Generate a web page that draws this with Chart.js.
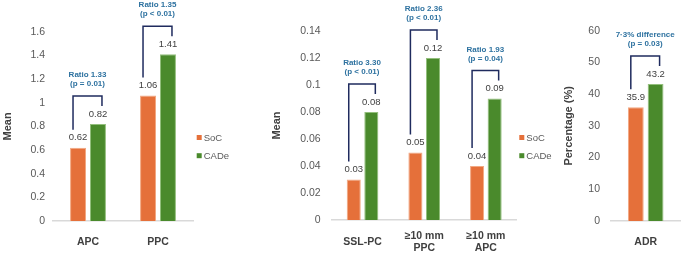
<!DOCTYPE html>
<html>
<head>
<meta charset="utf-8">
<script src="https://cdn.jsdelivr.net/npm/chart.js@4.4.1/dist/chart.umd.min.js"></script>
<style>
  html, body { margin: 0; padding: 0; background: #ffffff; }
  #wrap { position: relative; width: 685px; height: 254px; background: #ffffff; overflow: hidden; }
  .panel { position: absolute; top: 0; height: 254px; }
  canvas { display: block; }
</style>
</head>
<body>
<div id="wrap">
  <div class="panel" style="left:0px;width:230px"><canvas id="c1" width="230" height="254"></canvas></div>
  <div class="panel" style="left:230px;width:330px"><canvas id="c2" width="330" height="254"></canvas></div>
  <div class="panel" style="left:560px;width:125px"><canvas id="c3" width="125" height="254"></canvas></div>
</div>
<script>
// ---------------- DATA ----------------
const seriesNames = ['SoC', 'CADe'];

const categories1 = ['APC', 'PPC'];
const soc1 = [0.62, 1.06];
const cade1 = [0.82, 1.41];
const notes1 = [['Ratio 1.33', '(p = 0.01)'], ['Ratio 1.35', '(p < 0.01)']];
const yTicks1 = ['0', '0.2', '0.4', '0.6', '0.8', '1', '1.2', '1.4', '1.6'];

const categories2 = [['SSL-PC'], ['≥10 mm', 'PPC'], ['≥10 mm', 'APC']];
const soc2 = [0.03, 0.05, 0.04];
const cade2 = [0.08, 0.12, 0.09];
const notes2 = [['Ratio 3.30', '(p < 0.01)'], ['Ratio 2.36', '(p < 0.01)'], ['Ratio 1.93', '(p = 0.04)']];
const yTicks2 = ['0', '0.02', '0.04', '0.06', '0.08', '0.1', '0.12', '0.14'];

const categories3 = [['ADR']];
const soc3 = [35.9];
const cade3 = [43.2];
const notes3 = [['7·3% difference', '(p = 0.03)']];
const yTicks3 = ['0', '10', '20', '30', '40', '50', '60'];

// ---------------- STYLE ----------------
const FONT = "'Liberation Sans', Arial, Helvetica, sans-serif";
const ORANGE = '#E5703A', ORANGE_EDGE = '#F2A882';
const GREEN = '#4A8A2C', GREEN_EDGE = '#93BF7C';
const TICK_COLOR = '#595959';
const LABEL_COLOR = '#404040';
const NOTE_COLOR = '#2E72A0';
const BRACKET_COLOR = '#1F2B5E';

Chart.defaults.font.family = FONT;
Chart.defaults.animation = false;

const annotPlugin = {
  id: 'annot',
  afterDatasetsDraw(chart, args, opts) {
    const ctx = chart.ctx;
    const m0 = chart.getDatasetMeta(0), m1 = chart.getDatasetMeta(1);
    ctx.save();
    // value labels
    ctx.font = '9.5px ' + FONT;
    ctx.fillStyle = LABEL_COLOR;
    ctx.textAlign = 'center';
    ctx.textBaseline = 'middle';
    [m0, m1].forEach((meta, di) => {
      meta.data.forEach((bar, j) => {
        const v = chart.data.datasets[di].data[j];
        ctx.fillText(String(v), bar.x, bar.y - 10);
      });
    });
    // brackets + notes
    m0.data.forEach((s, j) => {
      const c = m1.data[j];
      const ls = s.y - 10, lc = c.y - 10;
      const top = Math.min(ls, lc) - 18;
      const lx = s.x - 5, rx = c.x + 4;
      ctx.beginPath();
      ctx.strokeStyle = BRACKET_COLOR;
      ctx.lineWidth = 1.5;
      ctx.moveTo(lx, ls - 8);
      ctx.lineTo(lx, top);
      ctx.lineTo(rx, top);
      ctx.lineTo(rx, lc - 8);
      ctx.stroke();
      const notes = opts.notes[j];
      ctx.font = 'bold 8px ' + FONT;
      ctx.fillStyle = NOTE_COLOR;
      const cx = (lx + rx) / 2;
      ctx.fillText(notes[0], cx, top - 21);
      ctx.fillText(notes[1], cx, top - 12);
    });
    // category labels
    const xs = chart.scales.x;
    ctx.font = 'bold 10.5px ' + FONT;
    ctx.fillStyle = LABEL_COLOR;
    opts.categories.forEach((cat, i) => {
      const lines = Array.isArray(cat) ? cat : [cat];
      const x = xs.getPixelForTick(i);
      const y0 = 242 - (lines.length - 1) * 12.6 / 2;
      lines.forEach((ln, k) => ctx.fillText(ln, x, y0 + k * 12.6));
    });
    // legend
    if (opts.legendX !== null) {
      ctx.font = '9.5px ' + FONT;
      ctx.fillStyle = TICK_COLOR;
      ctx.textAlign = 'left';
      const ys = [137.5, 155.7];
      chart.data.datasets.forEach((ds, i) => {
        ctx.fillStyle = ds.backgroundColor;
        ctx.fillRect(opts.legendX, ys[i] - 2.5, 5, 5);
        ctx.fillStyle = TICK_COLOR;
        ctx.fillText(ds.label, opts.legendX + 7, ys[i] + 0.5);
      });
    }
    ctx.restore();
  }
};

function makeChart(id, cfg) {
  const labels = cfg.categories.map(c => Array.isArray(c) ? c.join(' ') : c);
  return new Chart(document.getElementById(id), {
    type: 'bar',
    data: {
      labels: labels,
      datasets: [
        { label: seriesNames[0], data: cfg.soc, backgroundColor: ORANGE, borderColor: ORANGE_EDGE, borderWidth: 1,
          categoryPercentage: 0.57, barPercentage: 0.8 },
        { label: seriesNames[1], data: cfg.cade, backgroundColor: GREEN, borderColor: GREEN_EDGE, borderWidth: 1,
          categoryPercentage: 0.57, barPercentage: 0.8 }
      ]
    },
    options: {
      responsive: false,
      animation: false,
      layout: { padding: { left: cfg.padLeft, right: cfg.padRight, top: cfg.padTop, bottom: 0 } },
      plugins: {
        legend: { display: false },
        tooltip: { enabled: false },
        annot: { notes: cfg.notes, categories: cfg.categories, legendX: cfg.legendX }
      },
      scales: {
        x: {
          grid: { display: false, drawTicks: false },
          border: { display: true, color: '#D9D9D9', width: 1.5 },
          ticks: { display: false },
          afterFit(scale) { scale.height = cfg.xHeight; }
        },
        y: {
          min: 0, max: cfg.max,
          grid: { display: false, drawTicks: false },
          border: { display: false },
          ticks: {
            stepSize: cfg.step,
            padding: cfg.tickPad,
            color: TICK_COLOR,
            font: { size: 10.5, family: FONT },
            callback: (v, i) => cfg.yTicks[i]
          },
          title: {
            display: true, text: cfg.title, color: LABEL_COLOR,
            font: { size: 11, weight: 'bold', family: FONT },
            padding: { top: 1, bottom: 0 }
          },
          afterFit(scale) { scale.width = cfg.yWidth; }
        }
      }
    },
    plugins: [annotPlugin]
  });
}

makeChart('c1', {
  categories: categories1, soc: soc1, cade: cade1, notes: notes1, yTicks: yTicks1,
  max: 1.6, step: 0.2, title: 'Mean',
  padLeft: 0.4, yWidth: 52.6, padRight: 37, padTop: 31.7, xHeight: 33, tickPad: 8, legendX: 196.7
});
makeChart('c2', {
  categories: categories2, soc: soc2, cade: cade2, notes: notes2, yTicks: yTicks2,
  max: 0.14, step: 0.02, title: 'Mean',
  padLeft: 39, yWidth: 62.7, padRight: 43.3, padTop: 31, xHeight: 34, tickPad: 11, legendX: 289.3
});
makeChart('c3', {
  categories: categories3, soc: soc3, cade: cade3, notes: notes3, yTicks: yTicks3,
  max: 60, step: 10, title: 'Percentage (%)',
  padLeft: 1.7, yWidth: 49.3, padRight: 4.6, padTop: 30.7, xHeight: 33, tickPad: 11, legendX: null
});
</script>
</body>
</html>
